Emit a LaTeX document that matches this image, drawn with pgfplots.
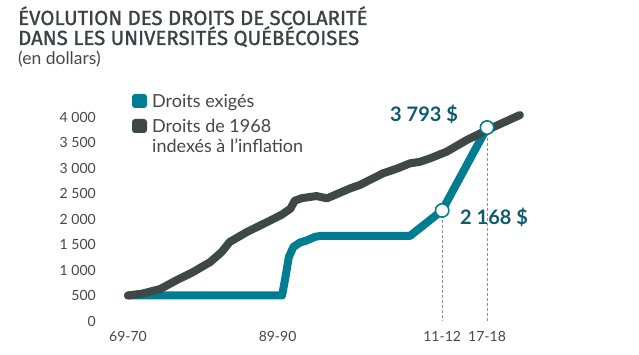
\documentclass[border=0pt]{standalone}
\usepackage{pgfplots}
\pgfplotsset{compat=1.18}
\usepackage{fontspec}
\setmainfont{Lato}
\newfontfamily\titlefont[FakeBold=1.2]{Fira Sans}
\definecolor{tealc}{RGB}{0,125,145}
\definecolor{darkc}{RGB}{62,72,70}
\definecolor{annc}{RGB}{14,90,112}
\definecolor{titlec}{RGB}{58,66,66}
\definecolor{labelc}{RGB}{70,70,70}
\begin{document}
\begin{tikzpicture}[x=1pt,y=1pt]
\useasboundingbox (0,0) rectangle (639,355);
\node[anchor=base west, inner sep=0, text=titlec, font=\titlefont\fontsize{20.4}{17}\selectfont] at (18,330) {ÉVOLUTION DES DROITS DE SCOLARITÉ};
\node[anchor=base west, inner sep=0, text=titlec, font=\titlefont\fontsize{20.4}{17}\selectfont] at (18,310) {DANS LES UNIVERSITÉS QUÉBÉCOISES};
\node[anchor=base west, inner sep=0, text=labelc, font=\fontsize{17.5}{17.5}\selectfont] at (18,290) {(en dollars)};
\begin{axis}[
  at={(100.3pt,34pt)}, anchor=south west,
  scale only axis, width=439.1pt, height=214.2pt,
  xmin=1965.3, xmax=2024, ymin=0, ymax=4200,
  axis line style={draw=none}, major tick length=0pt,
  clip=false,
  xtick={1969,1989,2011,2017},
  xticklabels={69-70,89-90,11-12,17-18},
  ytick={0,500,1000,1500,2000,2500,3000,3500,4000},
  yticklabels={0,500,1 000,1 500,2 000,2 500,3 000,3 500,4 000},
  tick label style={font=\fontsize{14}{14}\selectfont, text=labelc},
  xticklabel style={yshift=-7pt},
  yticklabel style={xshift=-1pt},
]
\addplot[darkc!60, densely dashed, line width=0.8pt, forget plot] coordinates {(2011,2168) (2011,0)};
\addplot[darkc!60, densely dashed, line width=0.8pt, forget plot] coordinates {(2017,3793) (2017,0)};
\addplot[tealc, line width=8pt, line cap=round, line join=round] coordinates {
(1969,500) (1989.6,500) (1990.1,900) (1990.5,1250) (1991.1,1450) (1992.0,1540) (1992.9,1580) (1994.0,1650) (1994.7,1668) (2006.7,1668) (2011,2168) (2017,3793)};
\addplot[darkc, line width=8pt, line cap=round, line join=round] coordinates {
(1969,500) (1971,540) (1973.3,627) (1975.5,800) (1977.7,960) (1980,1157) (1981.5,1350) (1982.6,1550) (1984.9,1745) (1987.6,1940) (1989.5,2080) (1990.7,2200) (1991.3,2360) (1992.3,2410) (1994.2,2450) (1995.6,2405) (1998.7,2600) (2000,2667) (2003.1,2896) (2005,2990) (2006.7,3092) (2008,3120) (2009.4,3190) (2011.6,3320) (2014.3,3549) (2017,3745) (2021.4,4039)};
\addplot[only marks, mark=*, mark size=6.7pt, mark options={fill=white, draw=tealc, line width=1.6pt}] coordinates {(2011,2168) (2017,3793)};
\end{axis}
\fill[tealc, rounded corners=3pt] (132,247) rectangle (147,261);
\fill[darkc, rounded corners=3pt] (132,222) rectangle (147,236);
\node[anchor=base west, inner sep=0, text=labelc, font=\fontsize{18}{18}\selectfont] at (152,247) {Droits exigés};
\node[anchor=base west, inner sep=0, text=labelc, font=\fontsize{18}{18}\selectfont] at (152,222) {Droits de 1968};
\node[anchor=base west, inner sep=0, text=labelc, font=\fontsize{18}{18}\selectfont] at (152,202) {indexés à l’inflation};
\node[anchor=base west, inner sep=0, text=annc, font=\bfseries\fontsize{20}{20}\selectfont] at (390,233) {3 793 \$};
\node[anchor=base west, inner sep=0, text=annc, font=\bfseries\fontsize{20}{20}\selectfont] at (460,130) {2 168 \$};
\end{tikzpicture}
\end{document}
